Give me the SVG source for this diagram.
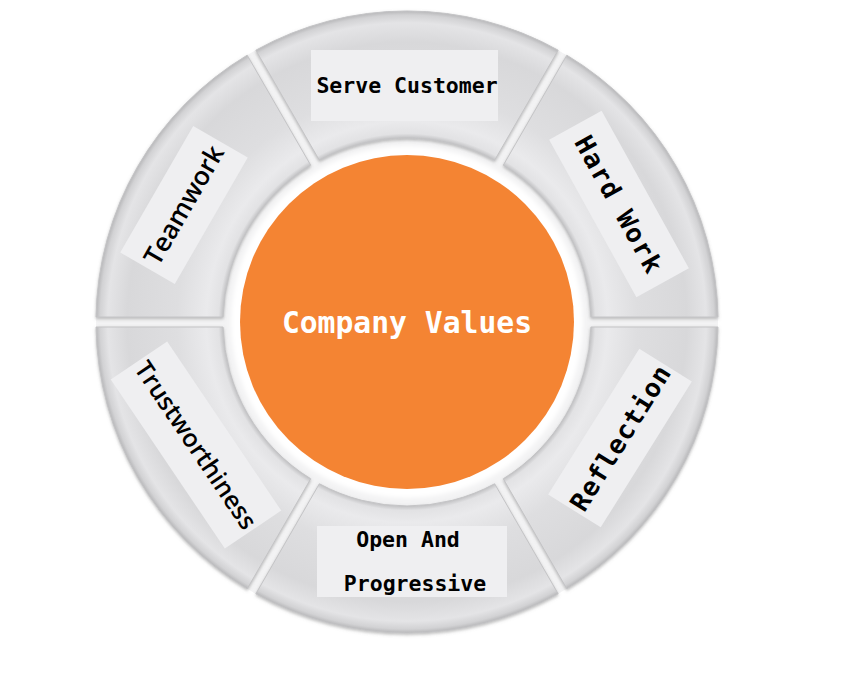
<svg xmlns="http://www.w3.org/2000/svg" width="857" height="683" viewBox="0 0 857 683">
<defs>
<radialGradient id="segGrad" gradientUnits="userSpaceOnUse" cx="407" cy="322" r="311">
<stop offset="0.5916" stop-color="#c2c2c4"/>
<stop offset="0.606" stop-color="#e2e2e4"/>
<stop offset="0.645" stop-color="#eaeaec"/>
<stop offset="0.74" stop-color="#dedee0"/>
<stop offset="0.90" stop-color="#d8d8da"/>
<stop offset="0.962" stop-color="#e4e4e6"/>
<stop offset="0.987" stop-color="#d2d2d4"/>
<stop offset="1" stop-color="#b8b8ba"/>
</radialGradient>
<filter id="bevel" x="-10%" y="-10%" width="120%" height="120%">
<feDropShadow dx="0" dy="1.5" stdDeviation="1.6" flood-color="#7a7a7a" flood-opacity="0.5"/>
</filter>
<filter id="halo" x="-10%" y="-10%" width="120%" height="120%">
<feGaussianBlur stdDeviation="2"/>
</filter>
</defs>
<style>
.seg{fill:url(#segGrad);stroke:#c4c4c6;stroke-width:1;filter:url(#bevel)}
.lbl{fill:#efeff1}
.mono{font-family:'DejaVu Sans Mono','Liberation Mono',monospace;font-weight:bold;fill:#000}
.sans{font-family:'Open Sans','Noto Sans','DejaVu Sans',sans-serif;font-weight:600;fill:#000}
</style>
<rect width="857" height="683" fill="#ffffff"/>
<g id="ring-base">
<circle cx="407" cy="322" r="311" fill="#f3f3f4"/>
</g>
<g id="connectors"></g>
<g id="node-hard-work">
<path class="seg" d="M 717.96 317 A 311 311 0 0 0 566.81 55.20 L 503.30 165.21 A 184 184 0 0 1 590.93 317 Z"/>
<g transform="translate(619,204) rotate(61)">
<rect class="lbl" x="-90" y="-30" width="180" height="60"/>
<text class="mono" x="0.7" y="9.5" font-size="26" letter-spacing="1.4" text-anchor="middle">Hard Work</text>
</g>
</g>
<g id="node-serve-customer">
<path class="seg" d="M 558.15 50.20 A 311 311 0 0 0 255.85 50.20 L 319.36 160.21 A 184 184 0 0 1 494.64 160.21 Z"/>
<rect class="lbl" x="311" y="50" width="187" height="71"/>
<text class="mono" x="407" y="93" font-size="21.5" text-anchor="middle">Serve Customer</text>
</g>
<g id="node-teamwork">
<path class="seg" d="M 247.19 55.20 A 311 311 0 0 0 96.04 317 L 223.07 317 A 184 184 0 0 1 310.70 165.21 Z"/>
<g transform="translate(184,205) rotate(-60)">
<rect class="lbl" x="-73" y="-31.5" width="146" height="63"/>
<text class="sans" x="0" y="9" font-size="26" text-anchor="middle">Teamwork</text>
</g>
</g>
<g id="node-trustworthiness">
<path class="seg" d="M 96.04 327 A 311 311 0 0 0 247.19 588.80 L 310.70 478.79 A 184 184 0 0 1 223.07 327 Z"/>
<g transform="translate(196,445) rotate(56)">
<rect class="lbl" x="-102" y="-34" width="204" height="68"/>
<text class="sans" x="0" y="9" font-size="25" text-anchor="middle">Trustworthiness</text>
</g>
</g>
<g id="node-open-and-progressive">
<path class="seg" d="M 255.85 593.80 A 311 311 0 0 0 558.15 593.80 L 494.64 483.79 A 184 184 0 0 1 319.36 483.79 Z"/>
<rect class="lbl" x="317" y="526" width="190" height="71"/>
<text class="mono" x="408" y="547" font-size="21.5" text-anchor="middle">Open And</text>
<text class="mono" x="415" y="591" font-size="21.5" text-anchor="middle">Progressive</text>
</g>
<g id="node-reflection">
<path class="seg" d="M 566.81 588.80 A 311 311 0 0 0 717.96 327 L 590.93 327 A 184 184 0 0 1 503.30 478.79 Z"/>
<g transform="translate(620,438) rotate(-58)">
<rect class="lbl" x="-86" y="-31" width="172" height="62"/>
<text class="mono" x="0.5" y="9.5" font-size="26" letter-spacing="1" text-anchor="middle">Reflection</text>
</g>
</g>
<g id="node-company-values">
<circle cx="407" cy="322" r="176" fill="#ffffff" filter="url(#halo)"/>
<circle cx="407" cy="322" r="167" fill="#f48433"/>
<text class="mono" x="407" y="333" font-size="29.7" style="fill:#ffffff" text-anchor="middle">Company Values</text>
</g>
</svg>
